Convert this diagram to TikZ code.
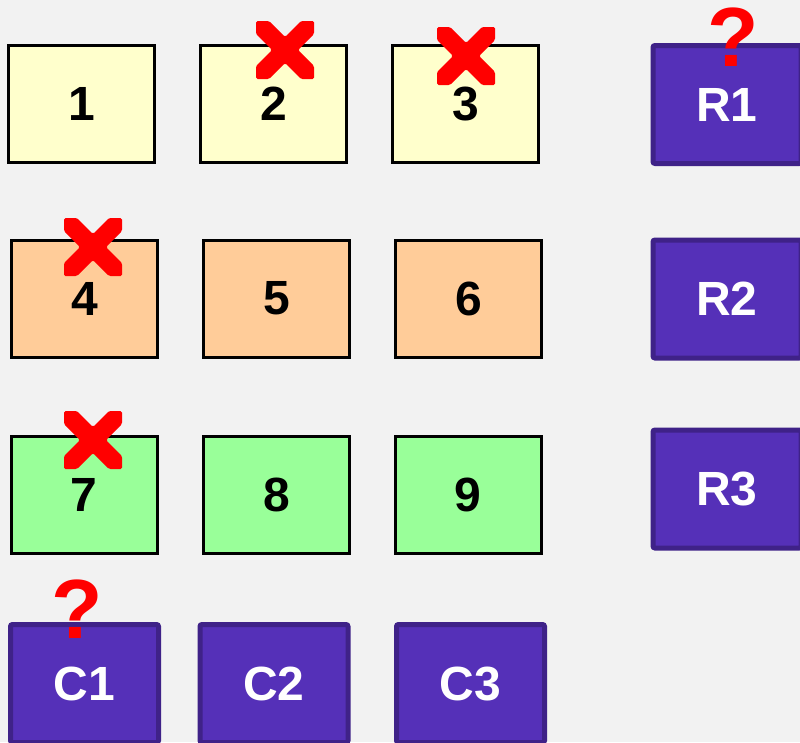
\documentclass[tikz,border=0pt]{standalone}
\usepackage{fontspec}
\setmainfont{Liberation Sans}

\definecolor{bgGray}{HTML}{F2F2F2}
\definecolor{cellYellow}{HTML}{FFFFCC}
\definecolor{cellOrange}{HTML}{FFCC99}
\definecolor{cellGreen}{HTML}{99FF99}
\definecolor{keyFill}{HTML}{5530B8}
\definecolor{keyEdge}{HTML}{3F2288}
\definecolor{markRed}{HTML}{FF0000}

\begin{document}
\begin{tikzpicture}[x=1pt, y=-1pt,
    cell/.style={draw=black, line width=3pt, minimum width=146pt, minimum height=117pt,
        inner sep=0pt, font=\fontsize{48}{48}\selectfont\bfseries},
    key/.style={draw=keyEdge, fill=keyFill, line width=5pt, rounded corners=2pt,
        minimum width=148pt, minimum height=118pt, inner sep=0pt, text=white,
        font=\fontsize{48}{48}\selectfont\bfseries},
    unknown/.style={text=markRed, inner sep=0pt, font=\fontsize{84}{84}\selectfont\bfseries}]

        % 1. 背景と描画範囲
        \useasboundingbox (0,0) rectangle (800,742);
        \clip (0,0) rectangle (800,742);
        \fill[bgGray] (0,0) rectangle (800,742);

        % 2. 3x3 のマス
        \foreach \n/\x/\y/\c in {1/81.5/104/cellYellow, 2/273.5/104/cellYellow, 3/465.5/104/cellYellow,
                                 4/84.5/298.5/cellOrange, 5/276.5/298.5/cellOrange, 6/468.5/298.5/cellOrange,
                                 7/84/495/cellGreen, 8/276.5/495/cellGreen, 9/468/495/cellGreen}
            \node[cell, fill=\c] (b\n) at (\x,\y) {\n};

        % 3. 行と列のラベル
        \foreach \n/\y in {1/104.5, 2/299, 3/489}
            \node[key] (r\n) at (727,\y) {R\n};
        \foreach \n/\x in {1/84.5, 2/274, 3/470.5}
            \node[key] (c\n) at (\x,683.5) {C\n};

        % 4. ×印（正方形で切った太い斜線）
        \foreach \cx/\cy in {285/50, 466/56, 93/247, 93/440}
            \fill[markRed, shift={(\cx,\cy)}, rounded corners=1.5pt]
                (-29,-29) -- (-16,-29) -- (0,-13) -- (16,-29) -- (29,-29) -- (29,-16)
                -- (13,0) -- (29,16) -- (29,29) -- (16,29) -- (0,13) -- (-16,29)
                -- (-29,29) -- (-29,16) -- (-13,0) -- (-29,-16) -- cycle;

        % 5. ？印
        \node[unknown] (q1) at (733,37.5) {?};
        \node[unknown] (q2) at (77,609) {?};
    \end{tikzpicture}
\end{document}
